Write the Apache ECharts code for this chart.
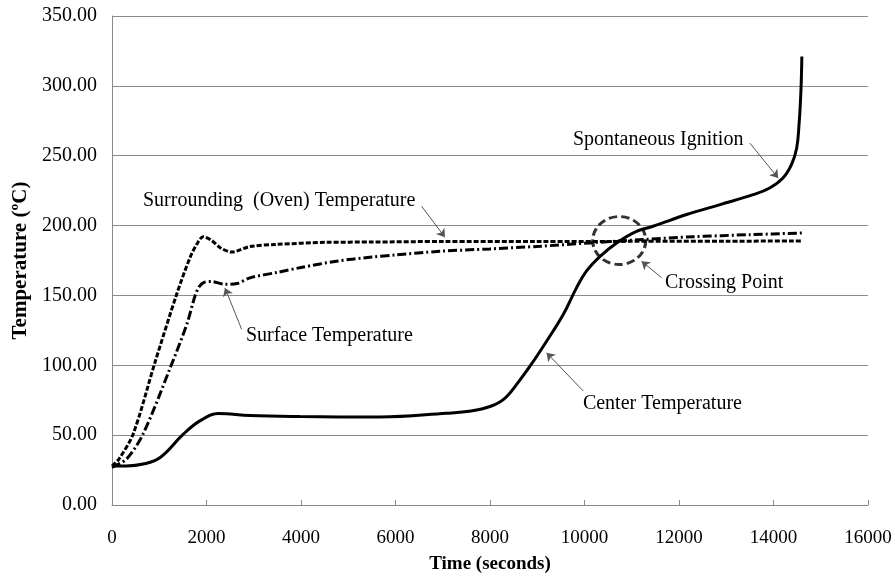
<!DOCTYPE html>
<html>
<head>
<meta charset="utf-8">
<script src="https://cdn.jsdelivr.net/npm/echarts@6/dist/echarts.min.js"></script>
<style>
  html, body { margin: 0; padding: 0; background: #fff; }
  #chart { width: 895px; height: 580px; }
</style>
</head>
<body>
<div id="chart"></div>
<script>
// surrounding (oven) temperature
const ovenTime = [0, 150, 450, 900, 1370, 1650, 1800, 1930, 2100, 2300, 2530, 2920, 3480, 4540, 5500, 7000, 9000, 11000, 13000, 14600];
const ovenTemp = [28, 33, 51, 101, 151, 177, 187, 192, 189.5, 184, 181, 185, 186.5, 188, 188.2, 188.6, 188.6, 188.7, 188.8, 189];

// surface temperature
const surfTime = [0, 310, 660, 1230, 1580, 1760, 1850, 1960, 2100, 2390, 2640, 2920, 3500, 4000, 4750, 5500, 6000, 6940, 8000, 9060, 10110, 11240, 12300, 13500, 14600];
const surfTemp = [27, 33, 51, 98, 129, 150, 156.5, 159.5, 160, 158, 158.5, 162.6, 166.5, 170, 174.5, 177.5, 179, 181.6, 183.3, 185.2, 187.6, 190, 192, 193.5, 194.7];

// center temperature
const centerTime = [0, 300, 660, 1020, 1510, 1860, 2250, 2920, 3980, 5670, 7080, 7600, 8000, 8300, 8600, 8900, 9200, 9550, 9830, 10040, 10330, 10680, 11100, 11450, 12160, 12870, 13570, 13920, 14200, 14380, 14490, 14540, 14580, 14600];
const centerTemp = [28, 28, 29.3, 34, 50.7, 60.2, 65.5, 64, 63.3, 63, 65.7, 67.3, 70.5, 76, 88, 102, 117.4, 136.4, 155.4, 167.4, 178, 187.6, 195.9, 199.5, 207.9, 215, 222.1, 226.9, 234, 243.6, 255.4, 272, 296, 321];

// annotations: text anchored at its left-middle, in data units
const noteText = ["Surrounding  (Oven) Temperature", "Surface Temperature", "Crossing Point", "Center Temperature", "Spontaneous Ignition"];
const noteAt = [[656, 218], [2835, 121], [11702, 159], [9966, 72.4], [9754, 261.6]];
// arrows: from -> to
const arrowFrom = [[6553, 213.8], [2744, 125.7], [11632, 162.6], [9973, 81.6], [13500, 259]];
const arrowTo = [[7047, 191.6], [2391, 155.4], [11208, 174.5], [9197, 109], [14099, 234]];
const crossPoint = [10735, 189.3];

const xTicks = { min: 0, max: 16000, step: 2000 };
const yTicks = { min: 0, max: 350, step: 50 };

const zip = (a, b) => a.map((v, i) => [v, b[i]]);
const font = "'Liberation Serif', 'Times New Roman', serif";

const chart = echarts.init(document.getElementById("chart"), null, { renderer: "canvas" });

chart.setOption({
  animation: false,
  backgroundColor: "#fff",
  textStyle: { fontFamily: font },
  grid: { left: 112, right: 27, top: 16, bottom: 75 },
  xAxis: {
    type: "value",
    min: xTicks.min,
    max: xTicks.max,
    interval: xTicks.step,
    name: "Time (seconds)",
    nameLocation: "middle",
    nameGap: 50,
    nameTextStyle: { fontFamily: font, fontWeight: "bold", fontSize: 19, color: "#000" },
    axisLine: { lineStyle: { color: "#888", width: 1 } },
    axisTick: { show: true, inside: true, length: 5, lineStyle: { color: "#888" } },
    axisLabel: { fontFamily: font, fontSize: 19, color: "#000", margin: 24, formatter: (v) => String(v) },
    splitLine: { show: false },
  },
  yAxis: {
    type: "value",
    min: yTicks.min,
    max: yTicks.max,
    interval: yTicks.step,
    name: "Temperature (ºC)",
    nameLocation: "middle",
    nameGap: 77,
    nameTextStyle: { fontFamily: font, fontWeight: "bold", fontSize: 21, color: "#000" },
    axisLine: { show: true, lineStyle: { color: "#888", width: 1 } },
    axisTick: { show: false },
    axisLabel: { fontFamily: font, fontSize: 20, color: "#000", margin: 15, formatter: (v) => v.toFixed(2) },
    splitLine: { lineStyle: { color: "#8c8c8c", width: 1 } },
  },
  series: [
    {
      name: "Surrounding (Oven) Temperature",
      type: "line",
      data: zip(ovenTime, ovenTemp),
      smooth: 0.3,
      showSymbol: false,
      lineStyle: { color: "#000", width: 3, type: [5, 2] },
    },
    {
      name: "Surface Temperature",
      type: "line",
      data: zip(surfTime, surfTemp),
      smooth: 0.3,
      showSymbol: false,
      lineStyle: { color: "#000", width: 3, type: [9, 3, 2, 3] },
    },
    {
      name: "Center Temperature",
      type: "line",
      data: zip(centerTime, centerTemp),
      smooth: 0.4,
      showSymbol: false,
      lineStyle: { color: "#000", width: 3 },
    },
    {
      name: "Crossing",
      type: "scatter",
      data: [crossPoint],
      symbol: "circle",
      symbolSize: [53, 48],
      silent: true,
      itemStyle: { color: "transparent", borderColor: "#000", borderWidth: 3, borderType: [8, 4] },
      z: 5,
    },
    {
      name: "Notes",
      type: "line",
      data: [],
      silent: true,
      markPoint: {
        symbol: "circle",
        symbolSize: 0,
        data: noteText.map((t, i) => ({
          coord: noteAt[i],
          label: { show: true, formatter: t, position: "right", distance: 0, fontFamily: font, fontSize: 20, color: "#000" },
        })),
      },
      markLine: {
        symbol: ["none", "arrow"],
        symbolSize: 8,
        silent: true,
        label: { show: false },
        lineStyle: { color: "#555", width: 1, type: "solid" },
        data: arrowFrom.map((f, i) => [{ coord: f }, { coord: arrowTo[i] }]),
      },
    },
  ],
});
</script>
</body>
</html>
